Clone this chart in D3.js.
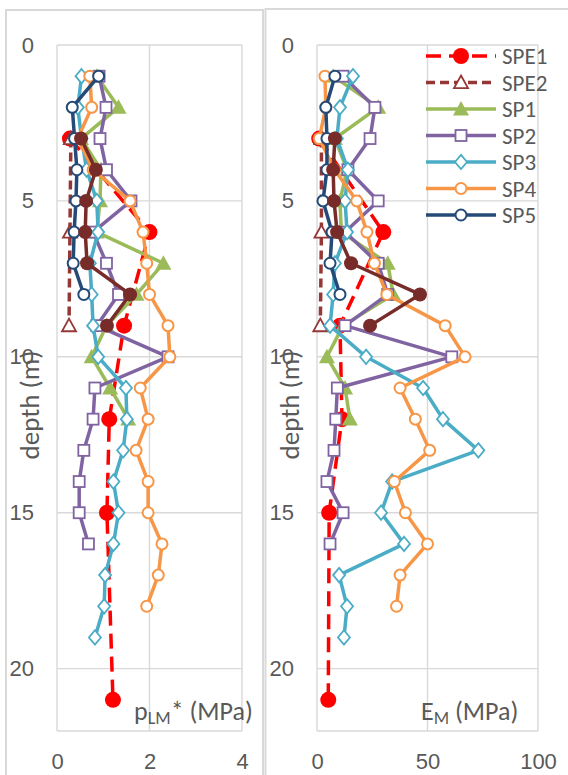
<!DOCTYPE html>
<html>
<head>
<meta charset="UTF-8">
<title>Pressuremeter profiles</title>
<style>
  body { margin: 0; padding: 0; background: #fff; }
  svg { display: block; font-family: Calibri, Carlito, "Open Sans", "Noto Sans", sans-serif; }
  .tick text { fill: #595959; font-size: 22px; }
  .grid line { stroke: #d9d9d9; stroke-width: 1.4px; }
</style>
</head>
<body>
<svg></svg>
<script src="https://d3js.org/d3.v7.min.js"></script>
<script>

// ---- data: depth (m) and values ----
const names = ["SPE1", "SPE2", "SP1", "SP2", "SP3", "SP4", "SP5", "SP6"];
const inLegend = [true, true, true, true, true, true, true, false];

const depthSPE1 = [3, 6, 9, 12, 15, 21];
const depthSPE2 = [3, 6, 9];
const depthSP1 = [1, 2, 3, 4, 5, 6, 7, 8, 9, 10, 11, 12];
const depthSP2 = [1, 2, 3, 4, 5, 6, 7, 8, 9, 10, 11, 12, 13, 14, 15, 16];
const depthSP3 = [1, 2, 3, 4, 5, 6, 7, 8, 9, 10, 11, 12, 13, 14, 15, 16, 17, 18, 19];
const depthSP4 = [1, 2, 3, 4, 5, 6, 7, 8, 9, 10, 11, 12, 13, 14, 15, 16, 17, 18];
const depthSP5 = [1, 2, 3, 4, 5, 6, 7, 8];
const depthSP6 = [3, 4, 5, 6, 7, 8, 9];

// net limit pressure pLM* (MPa)
const plmSPE1 = [0.28, 2.0, 1.45, 1.13, 1.08, 1.21];
const plmSPE2 = [0.30, 0.28, 0.26];
const plmSP1 = [0.86, 1.33, 0.52, 0.95, 0.93, 0.86, 2.3, 1.72, 1.07, 0.75, 1.15, 1.54];
const plmSP2 = [0.91, 1.06, 0.93, 1.07, 1.6, 0.78, 1.07, 1.33, 0.86, 2.4, 0.82, 0.78, 0.58, 0.48, 0.48, 0.68];
const plmSP3 = [0.53, 0.45, 0.53, 0.64, 0.86, 0.89, 0.71, 0.75, 0.78, 0.89, 1.49, 1.51, 1.43, 1.22, 1.33, 1.22, 1.04, 1.02, 0.82];
const plmSP4 = [0.71, 0.75, 0.45, 0.78, 1.58, 1.86, 1.94, 2.0, 2.4, 2.44, 1.8, 1.97, 1.71, 1.97, 1.97, 2.27, 2.19, 1.94];
const plmSP5 = [0.9, 0.33, 0.38, 0.43, 0.41, 0.37, 0.35, 0.58];
const plmSP6 = [0.52, 0.84, 0.63, 0.61, 0.65, 1.58, 1.08];

// Menard modulus EM (MPa)
const emSPE1 = [1, 30, 10.4, 11.3, 5.5, 5.1];
const emSPE2 = [2, 2, 1.5];
const emSP1 = [7.3, 27.7, 8.1, 13.6, 10.4, 11, 32, 34.5, 11.8, 4.5, 12.7, 14.9];
const emSP2 = [11.8, 26.2, 24, 14, 27.7, 12.7, 27.7, 32, 12.7, 61, 9.2, 8.5, 7.7, 4.5, 11.8, 5.9];
const emSP3 = [16.3, 10.4, 9, 14, 12.7, 13.6, 8.1, 7.3, 5.9, 22.2, 48, 57, 73, 34, 29, 39.4, 10, 13.6, 12.2];
const emSP4 = [3.6, 4, 1, 8, 18, 22.6, 26, 31.6, 58, 67, 37.6, 44.5, 51, 35, 40, 50, 37.6, 36];
const emSP5 = [8.1, 4, 4.5, 4.5, 2.7, 6.8, 5.9, 10.4];
const emSP6 = [8.1, 7.3, 7.7, 9.1, 15.4, 46.6, 24];

const xTicksLeft = [0, 2, 4];
const xTicksRight = [0, 50, 100];
const yTicks = [0, 5, 10, 15, 20];

// ---- styles ----
const styles = {
  SPE1: { color: "#ff0000", dash: "15,8", marker: "circleFill", size: 8 },
  SPE2: { color: "#953735", dash: "9,5", marker: "triOpen", size: 7 },
  SP1:  { color: "#9bbb59", dash: null, marker: "triFill", size: 8 },
  SP2:  { color: "#8064a2", dash: null, marker: "square", size: 6.5 },
  SP3:  { color: "#4bacc6", dash: null, marker: "diamond", size: 6 },
  SP4:  { color: "#f79646", dash: null, marker: "circleOpen", size: 6.5 },
  SP5:  { color: "#254a78", dash: null, marker: "circleOpen", size: 6.5 },
  SP6:  { color: "#772c2a", dash: null, marker: "circleFill", size: 7 }
};

const W = 568, H = 775;
const svg = d3.select("svg").attr("width", W).attr("height", H);

// chart frames
svg.append("rect").attr("x", 6).attr("y", 10).attr("width", 257).attr("height", 800)
  .attr("fill", "none").attr("stroke", "#d9d9d9").attr("stroke-width", 2);
svg.append("rect").attr("x", 265.5).attr("y", 9).attr("width", 400).attr("height", 800)
  .attr("fill", "none").attr("stroke", "#d9d9d9").attr("stroke-width", 2);

const y = d3.scaleLinear().domain([0, 22]).range([45, 731]);

function drawMarker(g, st, cx, cy) {
  const s = st.size;
  if (st.marker === "circleFill") {
    g.append("circle").attr("cx", cx).attr("cy", cy).attr("r", s).attr("fill", st.color);
  } else if (st.marker === "circleOpen") {
    g.append("circle").attr("cx", cx).attr("cy", cy).attr("r", s - 1)
      .attr("fill", "#fff").attr("stroke", st.color).attr("stroke-width", 2);
  } else if (st.marker === "square") {
    g.append("rect").attr("x", cx - s + 1).attr("y", cy - s + 1).attr("width", 2 * s - 2).attr("height", 2 * s - 2)
      .attr("fill", "#fff").attr("stroke", st.color).attr("stroke-width", 1.8);
  } else if (st.marker === "diamond") {
    const h = s * 1.2;
    g.append("path").attr("d", `M${cx},${cy - h}L${cx + s},${cy}L${cx},${cy + h}L${cx - s},${cy}Z`)
      .attr("fill", "#fff").attr("stroke", st.color).attr("stroke-width", 1.8);
  } else if (st.marker === "triFill" || st.marker === "triOpen") {
    const open = st.marker === "triOpen";
    g.append("path").attr("d", `M${cx},${cy - s}L${cx + s},${cy + s * 0.8}L${cx - s},${cy + s * 0.8}Z`)
      .attr("fill", open ? "#fff" : st.color).attr("stroke", st.color).attr("stroke-width", open ? 1.8 : 0);
  }
}

function drawPanel(cfg) {
  const x = d3.scaleLinear().domain(cfg.domain).range(cfg.range);
  const g = svg.append("g");

  // grid
  const grid = g.append("g").attr("class", "grid");
  grid.selectAll(".gx").data(cfg.xTicks).enter().append("line")
    .attr("x1", d => x(d)).attr("x2", d => x(d)).attr("y1", y(0)).attr("y2", y(22));
  grid.selectAll(".gy").data(yTicks).enter().append("line")
    .attr("x1", x(cfg.domain[0])).attr("x2", x(cfg.domain[1])).attr("y1", d => y(d)).attr("y2", d => y(d));
  grid.append("line").attr("x1", x(cfg.domain[0])).attr("x2", x(cfg.domain[1]))
    .attr("y1", y(22)).attr("y2", y(22));

  // axes (labels only)
  const ax = g.append("g").attr("transform", "translate(0,769)")
    .call(d3.axisBottom(x).tickValues(cfg.xTicks).tickFormat(d3.format("d")).tickSize(0).tickPadding(0));
  ax.select(".domain").remove();
  ax.selectAll("text").attr("dy", "0");
  const ay = g.append("g").attr("transform", `translate(${cfg.yLabelX},0)`)
    .call(d3.axisLeft(y).tickValues(yTicks).tickSize(0).tickPadding(0));
  ay.select(".domain").remove();

  // axis title
  g.append("text").attr("transform", `translate(${cfg.titleX},405) rotate(-90)`)
    .attr("text-anchor", "middle").attr("dy", "0.35em")
    .attr("fill", "#595959").style("font-size", "27px").text("depth (m)");

  // series
  const line = d3.line().x(d => x(d[1])).y(d => y(d[0]));
  cfg.series.forEach((s, i) => {
    const st = styles[names[i]];
    const pts = s.depth.map((d, j) => [d, s.val[j]]);
    const sg = g.append("g");
    sg.append("path").datum(pts).attr("d", line).attr("fill", "none")
      .attr("stroke", st.color).attr("stroke-width", 3.5)
      .attr("stroke-linejoin", "round")
      .attr("stroke-dasharray", st.dash);
    pts.forEach(p => drawMarker(sg, st, x(p[1]), y(p[0])));
  });

  // inner label
  const lab = g.append("text").attr("x", cfg.labelX).attr("y", 720)
    .attr("fill", "#595959").style("font-size", "26px");
  lab.append("tspan").text(cfg.label[0]);
  lab.append("tspan").attr("dy", 4).style("font-size", "18px").text(cfg.label[1]);
  lab.append("tspan").attr("dy", -4).text(cfg.label[2]);
  return x;
}

drawPanel({
  domain: [0, 4], range: [57, 242], xTicks: xTicksLeft, yLabelX: 34, titleX: 30,
  label: ["p", "LM", "* (MPa)"], labelX: 134,
  series: [
    { depth: depthSPE1, val: plmSPE1 }, { depth: depthSPE2, val: plmSPE2 },
    { depth: depthSP1, val: plmSP1 }, { depth: depthSP2, val: plmSP2 },
    { depth: depthSP3, val: plmSP3 }, { depth: depthSP4, val: plmSP4 },
    { depth: depthSP5, val: plmSP5 }, { depth: depthSP6, val: plmSP6 }
  ]
});

drawPanel({
  domain: [0, 100], range: [317, 538], xTicks: xTicksRight, yLabelX: 294, titleX: 290,
  label: ["E", "M", " (MPa)"], labelX: 421,
  series: [
    { depth: depthSPE1, val: emSPE1 }, { depth: depthSPE2, val: emSPE2 },
    { depth: depthSP1, val: emSP1 }, { depth: depthSP2, val: emSP2 },
    { depth: depthSP3, val: emSP3 }, { depth: depthSP4, val: emSP4 },
    { depth: depthSP5, val: emSP5 }, { depth: depthSP6, val: emSP6 }
  ]
});

// legend
const leg = svg.append("g");
names.filter((n, i) => inLegend[i]).forEach((n, i) => {
  const st = styles[n];
  const ly = 56 + i * 26.5;
  leg.append("line").attr("x1", 426).attr("x2", 496).attr("y1", ly).attr("y2", ly)
    .attr("stroke", st.color).attr("stroke-width", 3.5).attr("stroke-dasharray", st.dash);
  drawMarker(leg, st, 461, ly);
  leg.append("text").attr("x", 502).attr("y", ly).attr("dy", "0.35em")
    .attr("fill", "#595959").style("font-size", "23px").text(n);
});

</script>
</body>
</html>
